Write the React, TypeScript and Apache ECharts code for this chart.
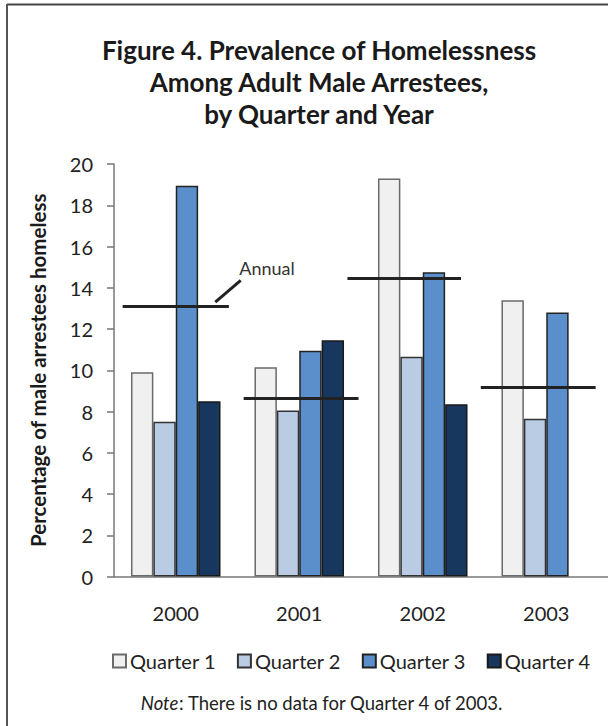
import React, { useEffect, useRef } from "react";
import * as echarts from "echarts";

const years = ["2000", "2001", "2002", "2003"];
const quarterNames = ["Quarter 1", "Quarter 2", "Quarter 3", "Quarter 4"];
const q1 = [9.9, 10.15, 19.3, 13.4];
const q2 = [7.5, 8.05, 10.65, 7.65];
const q3 = [18.95, 10.95, 14.75, 12.8];
const q4: (number | null)[] = [8.5, 11.45, 8.35, null];
const annual = [13.1, 8.65, 14.45, 9.2];
// horizontal extent of each annual line, in category units (0..4)
const annualStart = [0.07, 1.05, 1.89, 2.97];
const annualEnd = [0.93, 1.98, 2.81, 3.9];
const yTicks = { min: 0, max: 20, interval: 2 };

const fills = ["#f0f0f0", "#b9cce4", "#5b8fcb", "#18375f"];
const borders = ["#6a6a6a", "#333333", "#222222", "#1a1a1a"];

const FONT = "Lato, 'Open Sans', sans-serif";

export default function App() {
  const ref = useRef<HTMLDivElement>(null);
  useEffect(() => {
    document.body.style.margin = "0";
    const chart = echarts.init(ref.current!, null, { renderer: "svg" });
    const qs = [q1, q2, q3, q4];
    const barSeries = qs.map((d, i) => ({
      name: quarterNames[i],
      type: "bar",
      data: d.map((v) => (v === null ? "-" : v)),
      barGap: "0%",
      barCategoryGap: "27.5%",
      itemStyle: { color: fills[i], borderColor: borders[i], borderWidth: 1.5 },
      emphasis: { disabled: true },
    }));
    const option: any = {
      animation: false,
      textStyle: { fontFamily: FONT },
      title: [
        {
          text: "Figure 4. Prevalence of Homelessness\nAmong Adult Male Arrestees,\nby Quarter and Year",
          left: 319,
          top: 34,
          padding: 0,
          textAlign: "center",
          textStyle: { fontFamily: FONT, fontSize: 26, fontWeight: "bold", color: "#1a1a1a", lineHeight: 32 },
        },
        {
          text: "{i|Note}: There is no data for Quarter 4 of 2003.",
          left: 322,
          top: 693,
          padding: 0,
          textAlign: "center",
          textStyle: {
            fontFamily: FONT,
            fontSize: 18.5,
            fontWeight: "normal",
            color: "#222",
            rich: { i: { fontFamily: FONT, fontSize: 18.5, fontStyle: "italic", color: "#222" } },
          },
        },
      ],
      legend: {
        data: quarterNames,
        left: 112,
        top: 651,
        padding: 0,
        itemWidth: 13,
        itemHeight: 13,
        itemGap: 21,
        icon: "rect",
        textStyle: { fontFamily: FONT, fontSize: 20, color: "#222", padding: [0, 0, 0, -1] },
        selectedMode: false,
      },
      grid: { left: 114, top: 164, width: 504, height: 412.5, containLabel: false },
      xAxis: [
        {
          type: "category",
          data: years,
          axisLine: { lineStyle: { color: "#777", width: 1.5 } },
          axisTick: { show: false },
          axisLabel: { fontFamily: FONT, fontSize: 20, color: "#222", margin: 26 },
        },
        { type: "value", min: 0, max: 4, show: false },
      ],
      yAxis: {
        type: "value",
        min: yTicks.min,
        max: yTicks.max,
        interval: yTicks.interval,
        name: "Percentage of male arrestees homeless",
        nameLocation: "middle",
        nameGap: 66,
        nameTextStyle: { fontFamily: FONT, fontSize: 20.5, fontWeight: "bold", color: "#1a1a1a" },
        axisLine: { show: true, lineStyle: { color: "#777", width: 1.5 } },
        axisTick: { show: true, length: 7, lineStyle: { color: "#777", width: 1.5 } },
        axisLabel: { fontFamily: FONT, fontSize: 20, color: "#222", margin: 21 },
        splitLine: { show: false },
      },
      series: [
        ...barSeries,
        {
          type: "lines",
          coordinateSystem: "cartesian2d",
          xAxisIndex: 1,
          yAxisIndex: 0,
          z: 5,
          silent: true,
          lineStyle: { color: "#222", width: 3, opacity: 1 },
          data: [
            ...years.map((_, i) => ({
              coords: [
                [annualStart[i], annual[i]],
                [annualEnd[i], annual[i]],
              ],
            })),
            { coords: [[0.82, 13.3], [1.026, 14.36]] },
          ],
        },
      ],
      graphic: [
        {
          type: "text",
          x: 267,
          y: 268,
          style: { text: "Annual", font: `18px ${FONT}`, fill: "#333", textAlign: "center", textVerticalAlign: "middle" },
        },
        { type: "line", shape: { x1: 7, y1: 4.5, x2: 608, y2: 4.5 }, style: { stroke: "#444", lineWidth: 2 } },
        { type: "line", shape: { x1: 7, y1: 4, x2: 7, y2: 726 }, style: { stroke: "#555", lineWidth: 2 } },
      ],
    };
    chart.setOption(option);
    return () => chart.dispose();
  }, []);
  return <div ref={ref} style={{ width: 608, height: 726 }} />;
}
